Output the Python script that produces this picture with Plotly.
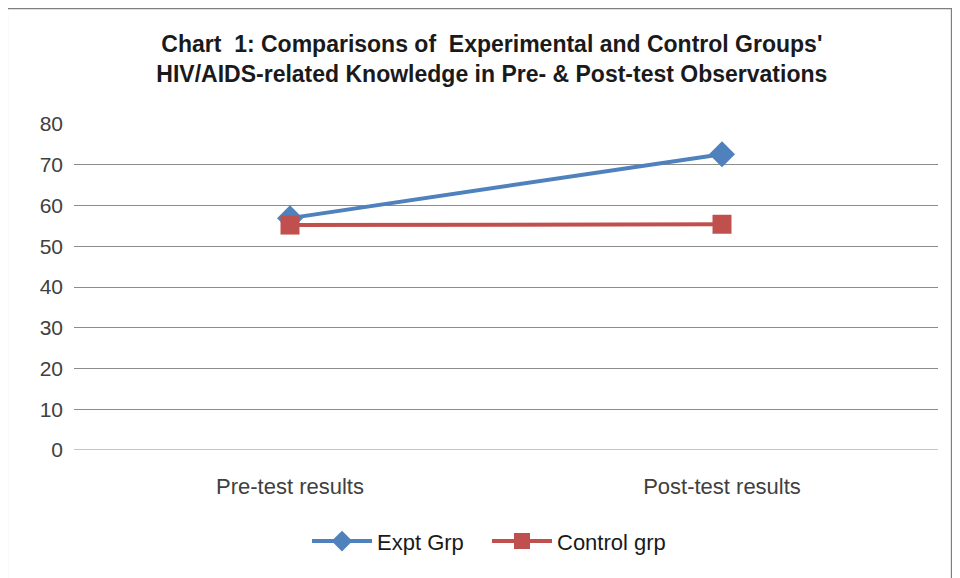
import plotly.graph_objects as go

# ── Data ────────────────────────────────────────────────────────────────────
categories = ["Pre-test results", "Post-test results"]
expt_grp = [56.9, 72.6]
control_grp = [55.2, 55.4]
y_ticks = [0, 10, 20, 30, 40, 50, 60, 70, 80]

BLUE = "#4F81BD"
RED = "#C0504D"
TEXT = "#404040"
FONT = "Liberation Sans Narrow, Liberation Sans, Arial, sans-serif"

fig = go.Figure()
fig.add_trace(go.Scatter(
    x=categories, y=expt_grp, mode="lines+markers", name="Expt Grp",
    line=dict(color=BLUE, width=4),
    marker=dict(symbol="diamond", size=20, color=BLUE),
))
fig.add_trace(go.Scatter(
    x=categories, y=control_grp, mode="lines+markers", name="Control grp",
    line=dict(color=RED, width=4),
    marker=dict(symbol="square", size=19, color=RED),
))

fig.update_layout(
    width=960, height=578,
    paper_bgcolor="white", plot_bgcolor="white",
    margin=dict(l=66, r=30, t=116, b=136, autoexpand=False),
    font=dict(family=FONT, size=20, color=TEXT),
    title=dict(
        text="<b>Chart  1: Comparisons of  Experimental and Control Groups'<br>"
             "HIV/AIDS-related Knowledge in Pre- &amp; Post-test Observations</b>",
        x=0.504, xanchor="center", y=0.924, yanchor="top",
        font=dict(family=FONT, size=23, color="#1a1a1a"),
    ),
    xaxis=dict(
        type="category", range=[-0.5, 1.5], showgrid=False, zeroline=False,
        showline=False, ticks="", tickfont=dict(size=22, color=TEXT),
        ticklabelstandoff=21, automargin=False,
    ),
    yaxis=dict(
        range=[0, 80], tickvals=y_ticks, showgrid=True, gridcolor="#8C8C8C",
        gridwidth=1, zeroline=False, showline=False, ticks="",
        tickfont=dict(size=21, color=TEXT), ticklabelstandoff=10,
        automargin=False,
    ),
    showlegend=True,
    legend=dict(
        orientation="h", x=0.478, xanchor="center", y=-0.28, yanchor="middle",
        font=dict(size=22, color="#1a1a1a"), itemwidth=60,
        entrywidth=105, entrywidthmode="pixels",
    ),
)
# baseline at 0 drawn as gridline too
fig.add_hline(y=0, line_color="#8C8C8C", line_width=1)

# outer chart border
fig.add_shape(type="rect", xref="paper", yref="paper",
              x0=-0.0775, x1=1.016, y0=-0.43, y1=1.355,
              line=dict(color="#7F7F7F", width=2))

fig.write_html("out.html")
